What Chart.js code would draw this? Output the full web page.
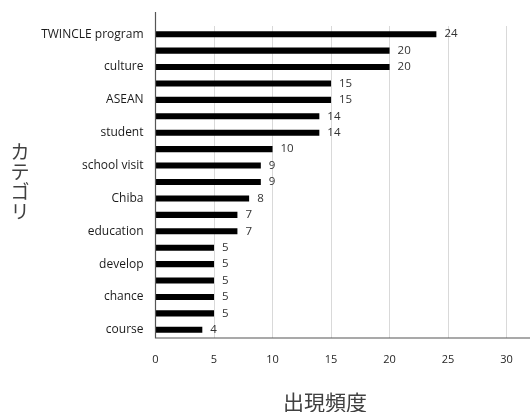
<!DOCTYPE html>
<html>
<head>
<meta charset="utf-8">
<script src="https://cdn.jsdelivr.net/npm/chart.js@4/dist/chart.umd.min.js"></script>
<style>
  html, body { margin: 0; padding: 0; background: #ffffff; }
  #wrap { width: 530px; height: 412px; position: relative; }
</style>
</head>
<body>
<div id="wrap"><canvas id="chart" width="530" height="412"></canvas></div>
<script>
// Keyword categories (every other label is left blank on the axis)
const categories = [
  'TWINCLE program', '', 'culture', '', 'ASEAN', '', 'student', '',
  'school visit', '', 'Chiba', '', 'education', '', 'develop', '',
  'chance', '', 'course'
];
// Occurrence counts per category
const counts = [24, 20, 20, 15, 15, 14, 14, 10, 9, 9, 8, 7, 7, 5, 5, 5, 5, 5, 4];
const xTicks = [0, 5, 10, 15, 20, 25, 30];
const xTitle = '出現頻度';
const yTitle = 'カテゴリ';

const LABEL_FONT = '"Open Sans", "Liberation Sans", sans-serif';
const CJK_FONT = '"Noto Sans CJK JP", "Noto Sans CJK SC", sans-serif';

// Draws the value next to each bar, the axis lines and the axis titles
const decorations = {
  id: 'decorations',
  afterDatasetsDraw(chart) {
    const ctx = chart.ctx;
    const area = chart.chartArea;
    const meta = chart.getDatasetMeta(0);
    ctx.save();
    ctx.font = '11.5px ' + LABEL_FONT;
    ctx.fillStyle = '#333333';
    ctx.textAlign = 'left';
    ctx.textBaseline = 'middle';
    meta.data.forEach((bar, i) => {
      ctx.fillText(String(counts[i]), bar.x + 8, bar.y);
    });

    // axis lines
    ctx.strokeStyle = '#555555';
    ctx.lineWidth = 1.2;
    ctx.beginPath();
    ctx.moveTo(area.left, 12);
    ctx.lineTo(area.left, area.bottom);
    ctx.lineTo(area.right, area.bottom);
    ctx.stroke();

    // axis titles
    ctx.fillStyle = '#404040';
    ctx.font = '21px ' + CJK_FONT;
    ctx.textAlign = 'center';
    ctx.textBaseline = 'middle';
    ctx.fillText(xTitle, 325, 402);
    ctx.font = '19px ' + CJK_FONT;
    Array.from(yTitle).forEach((ch, i) => {
      ctx.fillText(ch, 20, 152 + i * 20);
    });
    ctx.restore();
  }
};

new Chart(document.getElementById('chart'), {
  type: 'bar',
  data: {
    labels: categories,
    datasets: [{
      data: counts,
      backgroundColor: '#000000',
      borderWidth: 0,
      categoryPercentage: 1.0,
      barPercentage: 0.37
    }]
  },
  plugins: [decorations],
  options: {
    indexAxis: 'y',
    responsive: false,
    animation: false,
    layout: { padding: { top: 26, right: 0, left: 0, bottom: 0 } },
    plugins: {
      legend: { display: false },
      tooltip: { enabled: false }
    },
    scales: {
      x: {
        type: 'linear',
        min: 0,
        max: 32,
        afterFit(scale) { scale.height = 74; },
        afterBuildTicks(scale) { scale.ticks = xTicks.map(v => ({ value: v })); },
        grid: { color: '#d9d9d9', lineWidth: 1, drawTicks: false },
        border: { display: false },
        ticks: {
          padding: 15,
          color: '#262626',
          font: { family: LABEL_FONT, size: 11 }
        }
      },
      y: {
        type: 'category',
        afterFit(scale) { scale.width = 155.5; },
        grid: { display: false, drawTicks: false },
        border: { display: false },
        ticks: {
          autoSkip: false,
          padding: 12,
          color: '#1a1a1a',
          font: { family: LABEL_FONT, size: 12 }
        }
      }
    }
  }
});
</script>
</body>
</html>
